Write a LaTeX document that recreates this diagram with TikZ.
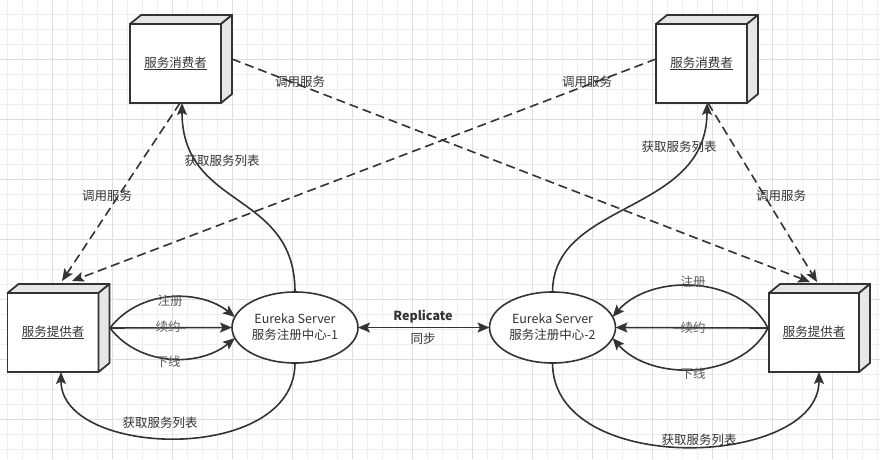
\documentclass[tikz,border=0pt]{standalone}
\usepackage{fontspec}
\setmainfont{Noto Sans CJK SC}
\usetikzlibrary{arrows.meta,shapes.geometric}
\definecolor{ink}{HTML}{333333}
\definecolor{lab}{HTML}{5A5A5A}
\definecolor{side}{HTML}{E6E6E6}
\definecolor{gridminor}{HTML}{EEEEEE}
\definecolor{gridmajor}{HTML}{DEDEDE}
\newcommand\cubefaces[1]{%
  \filldraw[draw=ink,line width=1.8pt,fill=side,line join=round]
    (#1.north west) -- ++(11,-9) -- ([shift={(11,-9)}]#1.north east) -- (#1.north east) -- cycle;
  \filldraw[draw=ink,line width=1.8pt,fill=side,line join=round]
    (#1.north east) -- ++(11,-9) -- ([shift={(11,-9)}]#1.south east) -- (#1.south east) -- cycle;}
\begin{document}
\begin{tikzpicture}[x=1pt,y=-1pt,
  font=\fontsize{12.5}{15}\selectfont,
  cube/.style={draw=ink, line width=1.8pt, fill=white, minimum width=91pt, minimum height=79pt,
    inner sep=0pt, outer sep=0pt, text=ink},
  server/.style={ellipse, draw=ink, line width=1.6pt, fill=white, minimum width=126pt,
    minimum height=71pt, inner sep=0pt, outer sep=0pt, align=center, text=ink,
    font=\fontsize{12.5}{16}\selectfont},
  conn/.style={draw=ink, line width=1.6pt, -{Stealth[length=12pt,width=10pt,inset=2.5pt]}},
  call/.style={conn, dash pattern=on 9pt off 5pt},
  lbl/.style={text=ink, inner sep=1pt},
  lbl2/.style={text=lab, inner sep=1pt}]
\useasboundingbox (0,0) rectangle (880,459);
\fill[white] (0,0) rectangle (880,459);
% grid
\foreach \x in {7,22,...,877} \draw[gridminor, line width=0.8pt] (\x,0) -- (\x,459);
\foreach \y in {14,29,...,459} \draw[gridminor, line width=0.8pt] (0,\y) -- (880,\y);
\foreach \x in {52,112,...,877} \draw[gridmajor, line width=0.8pt] (\x,0) -- (\x,459);
\foreach \y in {59,119,...,459} \draw[gridmajor, line width=0.8pt] (0,\y) -- (880,\y);

% nodes
\node[cube] (c1) at (175.5,63.5) {\underline{服务消费者}};
\cubefaces{c1}
\node[cube] (c2) at (701.5,63.5) {\underline{服务消费者}};
\cubefaces{c2}
\node[cube] (p1) at (53,332.5) {\underline{服务提供者}};
\cubefaces{p1}
\node[cube, minimum width=90pt] (p2) at (814,332.5) {\underline{服务提供者}};
\cubefaces{p2}
\node[server] (e1) at (295,327.5) {Eureka Server\\服务注册中心-1};
\node[server] (e2) at (552.5,327.5) {Eureka Server\\服务注册中心-2};

\coordinate (p1o) at (110,328);
\coordinate (p2o) at (768,328);

% replicate
\draw[draw=ink, line width=1.6pt, {Stealth[length=12pt,width=10pt,inset=2.5pt]}-{Stealth[length=12pt,width=10pt,inset=2.5pt]}] (e1.east) -- (e2.west);
\node[lbl, font=\fontsize{12.5}{15}\selectfont\bfseries] (rep) at (423,317) {Replicate};
\node[lbl] (syn) at (423,339) {同步};

% provider 1 -> server 1
\draw[conn] (p1o) .. controls (140,289) and (200,289) .. (e1.170);
\draw[conn] (p1o) -- (e1.west);
\draw[conn] (p1o) .. controls (140,367) and (200,367) .. (e1.190);
\node[lbl2] (l1a) at (170,301) {注册};
\node[lbl2] (l1b) at (168,327) {续约};
\node[lbl2] (l1c) at (168,362) {下线};

% provider 2 -> server 2
\draw[conn] (p2o) .. controls (740,274) and (650,274) .. (e2.10);
\draw[conn] (p2o) -- (e2.east);
\draw[conn] (p2o) .. controls (740,381) and (650,381) .. (e2.350);
\node[lbl2] (l2a) at (693,282) {注册};
\node[lbl2] (l2b) at (693,328) {续约};
\node[lbl2] (l2c) at (693,374) {下线};

% fetch service list
\draw[conn] (e1.north) .. controls (295,190) and (182,210) .. ([xshift=6.5]c1.south);
\node[lbl] (f1) at (222,161) {获取服务列表};
\draw[conn] (e2.north) .. controls (553,200) and (707,215) .. ([xshift=5.5]c2.south);
\node[lbl] (f2) at (679,147) {获取服务列表};
\draw[conn] (e1.south) .. controls (295,465) and (61,458) .. ([xshift=8]p1.south);
\node[lbl] (f3) at (160,423) {获取服务列表};
\draw[conn] (e2.south) .. controls (553,478) and (819,468) .. ([xshift=5]p2.south);
\node[lbl] (f4) at (699,440) {获取服务列表};

% call service (dashed)
\draw[call] ([shift={(11,-4.5)}]c1.east) -- ([shift={(-4,-11)}]p2.north);
\node[lbl] (d1) at (300,82) {调用服务};
\draw[call] ([shift={(0,-4.5)}]c2.west) -- ([shift={(19,-12)}]p1.north);
\node[lbl] (d2) at (587,82) {调用服务};
\draw[call] ([xshift=4.5]c1.south) -- ([shift={(9,-12)}]p1.north);
\node[lbl] (d3) at (107,196) {调用服务};
\draw[call] ([xshift=6.5]c2.south) -- ([shift={(3,-11)}]p2.north);
\node[lbl] (d4) at (781,196) {调用服务};
\end{tikzpicture}
\end{document}
